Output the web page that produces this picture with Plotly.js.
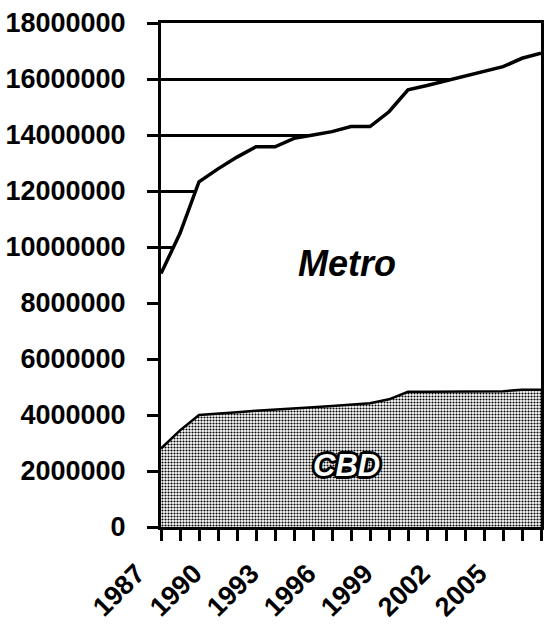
<!DOCTYPE html>
<html>
<head>
<meta charset="utf-8">
<script src="https://cdn.plot.ly/plotly-3.0.1.min.js"></script>
<style>
  html, body { margin: 0; padding: 0; background: #fff; }
  #chart { width: 544px; height: 625px; }
</style>
</head>
<body>
<div id="chart"></div>
<script>
// Data
const years = [1987, 1988, 1989, 1990, 1991, 1992, 1993, 1994, 1995, 1996, 1997,
               1998, 1999, 2000, 2001, 2002, 2003, 2004, 2005, 2006, 2007];
const cbd = [2800000, 3450000, 4000000, 4060000, 4100000, 4150000, 4200000, 4240000,
             4280000, 4320000, 4370000, 4420000, 4560000, 4830000, 4830000, 4830000,
             4830000, 4830000, 4850000, 4900000, 4900000];
const metro = [9050000, 10490000, 12330000, 12790000, 13210000, 13580000, 13580000,
               13880000, 14000000, 14120000, 14300000, 14300000, 14830000, 15610000,
               15770000, 15940000, 16080000, 16250000, 16440000, 16740000, 16920000];
const yTicks = [0, 2000000, 4000000, 6000000, 8000000, 10000000, 12000000,
                14000000, 16000000, 18000000];
const xTickYears = [1987, 1990, 1993, 1996, 1999, 2002, 2005];
const labels = [
  {text: 'Metro', x: 1996.8, y: 9400000},
  {text: 'CBD', x: 1996.75, y: 2200000}
];

const tickFont = {family: 'Liberation Sans, Arial, sans-serif', size: 27, color: '#000', weight: 'bold'};

const traces = [
  {
    x: years, y: cbd, type: 'scatter', mode: 'lines',
    line: {color: '#000', width: 2.5},
    fill: 'tozeroy',
    fillcolor: '#ffffff',
    fillpattern: {shape: '.', size: 3, solidity: 0.4, fgcolor: '#000', bgcolor: '#fff'},
    hoverinfo: 'skip', showlegend: false
  },
  {
    x: years, y: metro, type: 'scatter', mode: 'lines',
    line: {color: '#000', width: 3.5},
    fill: 'tonexty', fillcolor: '#ffffff',
    hoverinfo: 'skip', showlegend: false
  }
];

const outline = '3px 0 0 #000, -3px 0 0 #000, 0 3px 0 #000, 0 -3px 0 #000, ' +
                '2px 2px 0 #000, -2px -2px 0 #000, 2px -2px 0 #000, -2px 2px 0 #000';

const layout = {
  width: 544, height: 625,
  margin: {l: 161, r: 3, t: 23, b: 98, pad: 0},
  paper_bgcolor: '#fff', plot_bgcolor: '#fff',
  showlegend: false,
  xaxis: {
    range: [1987, 2007],
    tickmode: 'array', tickvals: xTickYears, ticktext: xTickYears.map(String),
    tickangle: -45,
    ticks: 'outside', ticklen: 11, tickwidth: 3, tickcolor: '#000',
    ticklabelstandoff: 6, ticklabelshift: -24,
    minor: {dtick: 1, tick0: 1987, ticks: 'outside', ticklen: 11, tickwidth: 3, tickcolor: '#000', showgrid: false},
    showline: true, linecolor: '#000', linewidth: 3, mirror: true,
    showgrid: false, zeroline: false,
    tickfont: tickFont,
    fixedrange: true
  },
  yaxis: {
    range: [0, 18000000],
    tickmode: 'array', tickvals: yTicks, ticktext: yTicks.map(String),
    ticks: 'outside', ticklen: 11, tickwidth: 3, tickcolor: '#000',
    ticklabelstandoff: 16,
    showline: true, linecolor: '#000', linewidth: 3, mirror: true,
    showgrid: true, gridcolor: '#000', gridwidth: 3,
    zeroline: false,
    tickfont: tickFont,
    fixedrange: true
  },
  annotations: [
    {
      x: labels[0].x, y: labels[0].y, xref: 'x', yref: 'y', text: labels[0].text,
      showarrow: false,
      font: {family: 'Liberation Sans, Arial, sans-serif', size: 36, color: '#000', weight: 'bold', style: 'italic'}
    },
    {
      x: labels[1].x, y: labels[1].y, xref: 'x', yref: 'y', text: labels[1].text,
      showarrow: false,
      font: {family: 'Liberation Sans, Arial, sans-serif', size: 31, color: '#fff', weight: 'bold', style: 'italic', shadow: outline}
    }
  ]
};

Plotly.newPlot('chart', traces, layout, {displayModeBar: false, staticPlot: true});
</script>
</body>
</html>
